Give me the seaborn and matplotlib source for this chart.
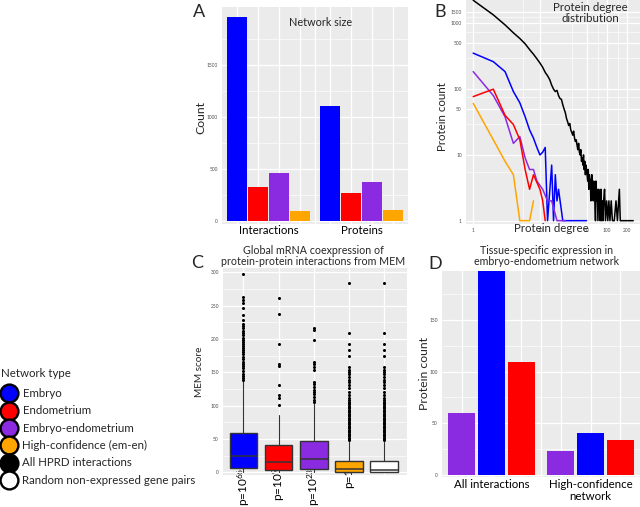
import pandas as pd
import matplotlib.pyplot as plt
import matplotlib.ticker as mticker
import seaborn as sns

W, H = 640, 507

# ---- colours per network type
network_colors = {
    "Embryo": "#0000FF",
    "Endometrium": "#FF0000",
    "Embryo-endometrium": "#8A2BE2",
    "High-confidence (em-en)": "#FFA500",
    "All HPRD interactions": "#000000",
    "Random non-expressed gene pairs": "#FFFFFF",
}

# ---- panel A: network size
size_metrics = ["Interactions", "Proteins"]
size_networks = ["Embryo", "Endometrium", "Embryo-endometrium", "High-confidence (em-en)"]
interaction_counts = [1961, 327, 456, 93]
protein_counts = [1103, 269, 369, 103]

# ---- panel B: protein degree distribution
hprd_degree = [1, 2, 3, 4, 5, 6, 7, 8, 9, 10, 11, 12, 13, 14, 15, 16, 17, 18, 19, 20,
               21, 22, 23, 24, 25, 26, 27, 28, 29, 30, 31, 32, 33, 34, 35, 36, 37, 38, 39, 40,
               41, 42, 43, 44, 45, 46, 47, 48, 49, 50, 52, 53, 54, 55, 57, 58, 60, 61, 63, 64,
               66, 68, 69, 71, 72, 74, 76, 78, 80, 82, 84, 86, 88, 90, 93, 96, 100, 104, 108, 112,
               117, 122, 130, 138, 145, 155, 160, 170, 190, 220, 250]
hprd_count = [2250, 1350, 950, 720, 590, 490, 400, 340, 290, 250, 215, 180, 160, 140, 115, 100, 92, 96, 80, 72,
              70, 58, 50, 44, 36, 32, 28, 30, 24, 22, 20, 23, 18, 16, 17, 14, 12, 15, 11, 10,
              12, 8, 9, 7, 10, 6, 8, 5, 7, 6, 4, 6, 3, 5, 4, 2, 5, 3, 2, 4,
              3, 1, 4, 2, 3, 1, 3, 2, 1, 3, 1, 2, 1, 2, 3, 1, 2, 1, 2, 1,
              2, 1, 1, 2, 1, 3, 1, 1, 1, 1, 1]
embryo_degree = [1, 2, 3, 4, 5, 6, 7, 8, 9, 10, 11, 12, 13, 15, 16, 17, 18, 19, 22, 27, 35, 50]
embryo_count = [353, 262, 185, 92, 62, 38, 24, 18, 13, 10, 11, 13, 1, 7, 1, 5, 2, 3, 1, 1, 1, 1]
emen_degree = [1, 2, 3, 4, 5, 6, 7, 8, 9, 11, 13, 15, 18, 24]
emen_count = [185, 80, 38, 15, 19, 9, 6, 6, 4, 3, 2, 2, 1, 1]
endo_degree = [1, 2, 3, 4, 5, 6, 7, 8, 10, 11, 12]
endo_count = [77, 100, 40, 29, 17, 6, 3, 5, 3, 2, 1]
hc_degree = [1, 2, 3, 4, 5, 7, 8]
hc_count = [61, 17, 8, 5, 1, 1, 2]

# ---- panel C: MEM score boxplots (summary stats)
mem_networks = ["Embryo", "Endometrium", "Embryo-endometrium",
                "High-confidence (em-en)", "Random non-expressed gene pairs"]
mem_labels = [r"p=10$^{66}$", r"p=10$^{9}$", r"p=10$^{23}$", "p=1", ""]
mem_q1 = [6, 4, 4.5, 0, 0]
mem_median = [25, 16, 19.5, 4.5, 4]
mem_q3 = [58.5, 41, 47, 17.5, 17.5]
mem_whislo = [0, 0, 0, 0, 0]
mem_whishi = [137, 86, 103, 46, 46]
mem_fliers = [
    [298, 263, 259, 254, 246, 236, 228, 223, 220, 216, 212, 209, 206, 202, 198, 196, 193, 189,
     186, 183, 181, 177, 173, 170, 166, 162, 159, 156, 152, 148, 144, 141, 138],
    [262, 238, 193, 162, 159, 131, 116, 112, 101],
    [216, 213, 198, 166, 162, 158, 153, 136, 132, 128, 124, 121, 117, 113, 109, 106],
    [284, 209, 193, 183, 174, 158, 154, 151, 147, 143, 139, 136, 131, 126, 121, 116, 112,
     108, 106, 104, 102, 100, 98, 96, 94, 92, 90, 88, 86, 84, 82, 80, 78, 76, 74, 72, 70,
     68, 66, 64, 62, 60, 58, 56, 54, 52, 50, 48],
    [284, 209, 193, 183, 174, 158, 154, 151, 147, 143, 139, 136, 131, 126, 121, 116, 112,
     108, 106, 104, 102, 100, 98, 96, 94, 92, 90, 88, 86, 84, 82, 80, 78, 76, 74, 72, 70,
     68, 66, 64, 62, 60, 58, 56, 54, 52, 50, 48],
]

# ---- panel D: tissue-specific expression
tissue_sets = ["All interactions", "High-confidence\nnetwork"]
tissue_types = ["Embryo-endometrium", "Embryo", "Endometrium"]
tissue_all = [60, 200, 109]
tissue_hc = [23, 40, 34]

# ---- legend
legend_labels = ["Embryo", "Endometrium", "Embryo-endometrium", "High-confidence (em-en)",
                 "All HPRD interactions", "Random non-expressed gene pairs"]

sns.set_theme(style="darkgrid")
plt.rcParams["font.family"] = ["Lato", "DejaVu Sans"]
plt.rcParams["mathtext.fontset"] = "custom"
plt.rcParams["mathtext.rm"] = "Lato"
plt.rcParams["mathtext.default"] = "regular"

BG = "#EBEBEB"
TICK_FS = 3.5
TICK_COLOR = "#4D4D4D"
TITLE_FS = 7.7
LABEL_FS = 8.3

fig = plt.figure(figsize=(W / 100, H / 100), dpi=100)


def px_axes(left, top, right, bottom):
    return fig.add_axes([left / W, 1 - bottom / H, (right - left) / W, (bottom - top) / H])


def fx(x):
    return x / W


def fy(y):
    return 1 - y / H


def gg_style(ax):
    ax.set_facecolor(BG)
    for s in ax.spines.values():
        s.set_visible(False)
    ax.grid(False)
    ax.set_axisbelow(True)
    ax.tick_params(axis="y", which="major", length=2, width=0.5, color="#333333",
                   labelsize=TICK_FS, labelcolor=TICK_COLOR, pad=1)
    ax.tick_params(which="minor", length=0)
    ax.set_xlabel("")
    ax.set_ylabel("")


def add_grid(ax, xlines=None):
    ax.grid(True, which="major", axis="y", color="white", lw=0.9)
    ax.grid(True, which="minor", axis="y", color="white", lw=0.45)
    if xlines is not None:
        for x in xlines:
            ax.axvline(x, color="white", lw=0.9, zorder=0.5)


# =========================================================
# A: network size
# =========================================================
axA = px_axes(222, 7, 408, 224)
df_a = pd.DataFrame({
    "metric": [size_metrics[0]] * len(size_networks) + [size_metrics[1]] * len(size_networks),
    "network": size_networks * 2,
    "count": interaction_counts + protein_counts,
})
sns.barplot(data=df_a, x="metric", y="count", hue="network", hue_order=size_networks,
            palette=network_colors, width=0.9, gap=0.08, saturation=1, linewidth=0,
            legend=False, ax=axA, zorder=2)
gg_style(axA)
axA.set_xlim(-0.5, 1.5)
axA.set_ylim(-32, 2055)
axA.set_yticks([0, 500, 1000, 1500])
axA.set_yticks([250, 750, 1250, 1750], minor=True)
centers_a = [p.get_x() + p.get_width() / 2 for p in axA.patches if p.get_height() > 0]
add_grid(axA, centers_a + [0.5])
axA.tick_params(axis="x", length=0, labelsize=8.3, pad=0.5, labelcolor="black")
fig.text(fx(321), fy(23), "Network size", ha="center", va="center", fontsize=7.8)
fig.text(fx(201), fy(118), "Count", rotation=90, ha="center", va="center", fontsize=8.8)
fig.text(fx(199), fy(12), "A", ha="center", va="center", fontsize=13)

# =========================================================
# B: protein degree distribution
# =========================================================
axB = px_axes(466, 0, 640, 224)
deg_series = [
    ("All HPRD interactions", hprd_degree, hprd_count),
    ("Embryo", embryo_degree, embryo_count),
    ("Embryo-endometrium", emen_degree, emen_count),
    ("Endometrium", endo_degree, endo_count),
    ("High-confidence (em-en)", hc_degree, hc_count),
]
df_b = pd.concat([pd.DataFrame({"network": name, "degree": d, "count": c})
                  for name, d, c in deg_series], ignore_index=True)
sns.lineplot(data=df_b, x="degree", y="count", hue="network",
             hue_order=[s[0] for s in deg_series], palette=network_colors,
             estimator=None, lw=1.1, legend=False, ax=axB, zorder=2)
gg_style(axB)
axB.set_xscale("log")
axB.set_yscale("log")
axB.set_xlim(0.78, 316)
axB.set_ylim(0.89, 2270)
axB.set_xticks([1, 10, 50, 100, 200])
axB.set_xticklabels(["1", "10", "50", "100", "200"])
axB.set_xticks([5.5, 30, 75, 150], minor=True)
axB.set_yticks([1, 10, 50, 100, 500, 1000, 1500])
axB.set_yticklabels(["1", "10", "50", "100", "500", "1000", "1500"])
axB.set_yticks([5.5, 30, 75, 300, 750, 1250], minor=True)
axB.xaxis.set_minor_formatter(mticker.NullFormatter())
axB.yaxis.set_minor_formatter(mticker.NullFormatter())
axB.grid(True, which="major", color="white", lw=0.9)
axB.grid(True, which="minor", color="white", lw=0.45)
axB.tick_params(axis="x", which="major", length=2, width=0.5, color="#333333",
                labelsize=TICK_FS, labelcolor=TICK_COLOR, pad=1)
axB.tick_params(which="minor", length=0)
fig.text(fx(590), fy(13), "Protein degree\ndistribution", ha="center", va="center",
         fontsize=8.3, linespacing=1.0)
fig.text(fx(551), fy(228), "Protein degree", ha="center", va="center", fontsize=8.3)
fig.text(fx(443), fy(117), "Protein count", rotation=90, ha="center", va="center",
         fontsize=LABEL_FS)
fig.text(fx(440), fy(12), "B", ha="center", va="center", fontsize=13)

# =========================================================
# C: MEM score boxplots
# =========================================================
axC = px_axes(223, 268, 407, 475)
gg_style(axC)
stats = []
for i in range(len(mem_networks)):
    stats.append({"med": mem_median[i], "q1": mem_q1[i], "q3": mem_q3[i],
                  "whislo": mem_whislo[i], "whishi": mem_whishi[i],
                  "fliers": mem_fliers[i]})
bp = axC.bxp(stats, positions=list(range(len(mem_networks))), widths=0.79,
             patch_artist=True, showcaps=False,
             boxprops={"edgecolor": "#333333", "linewidth": 1.0},
             medianprops={"color": "#333333", "linewidth": 1.1},
             whiskerprops={"color": "#333333", "linewidth": 0.8},
             flierprops={"marker": "o", "markersize": 2.2, "markerfacecolor": "black",
                         "markeredgecolor": "none"},
             zorder=2)
for patch, name in zip(bp["boxes"], mem_networks):
    patch.set_facecolor(network_colors[name])
axC.set_xlim(-0.58, 4.65)
axC.set_ylim(-4, 306.5)
axC.set_yticks([0, 50, 100, 150, 200, 250, 300])
axC.set_yticks([25, 75, 125, 175, 225, 275], minor=True)
add_grid(axC, list(range(len(mem_networks))))
axC.set_xticks(list(range(len(mem_networks))))
axC.set_xticklabels(mem_labels, rotation=90, fontsize=8.5)
axC.tick_params(axis="x", length=0, pad=-5, labelcolor="black")
fig.text(fx(313), fy(256), "Global mRNA coexpression of\nprotein-protein interactions from MEM",
         ha="center", va="center", fontsize=TITLE_FS, linespacing=1.05)
fig.text(fx(199), fy(372), "MEM score", rotation=90, ha="center", va="center", fontsize=7.2)
fig.text(fx(197), fy(263), "C", ha="center", va="center", fontsize=13)

# =========================================================
# D: tissue-specific expression
# =========================================================
axD = px_axes(442, 271, 640, 477)
df_d = pd.DataFrame({
    "set": [tissue_sets[0]] * len(tissue_types) + [tissue_sets[1]] * len(tissue_types),
    "type": tissue_types * 2,
    "count": tissue_all + tissue_hc,
})
sns.barplot(data=df_d, x="set", y="count", hue="type", hue_order=tissue_types,
            palette=network_colors, width=0.9, gap=0.08, saturation=1, linewidth=0,
            legend=False, ax=axD, zorder=2)
gg_style(axD)
axD.set_xlim(-0.5, 1.5)
axD.set_ylim(-2.2, 197.4)
axD.set_yticks([0, 50, 100, 150])
axD.set_yticks([25, 75, 125, 175], minor=True)
centers_d = [p.get_x() + p.get_width() / 2 for p in axD.patches if p.get_height() > 0]
add_grid(axD, centers_d + [0.5])
axD.tick_params(axis="x", length=0, labelsize=8.3, pad=1.5, labelcolor="black")
for lab in axD.get_xticklabels():
    lab.set_linespacing(1.05)
fig.text(fx(547), fy(256), "Tissue-specific expression in\nembryo-endometrium network",
         ha="center", va="center", fontsize=TITLE_FS, linespacing=1.05)
fig.text(fx(425), fy(373), "Protein count", rotation=90, ha="center", va="center",
         fontsize=8.8)
fig.text(fx(435), fy(264), "D", ha="center", va="center", fontsize=13)

# =========================================================
# shared legend (drawn in a bare axes measured in pixels)
# =========================================================
axL = px_axes(0, 362, 220, 492)
axL.set_xlim(0, 220)
axL.set_ylim(492, 362)
axL.axis("off")
row_step = 17.35
first_row = 393.3
axL.text(1, 373.5, "Network type", ha="left", va="center", fontsize=8.3)
for i, name in enumerate(legend_labels):
    y = first_row + i * row_step
    axL.scatter([9], [y], s=165, color=network_colors[name], edgecolor="black",
                linewidth=1.7, clip_on=False, zorder=3)
    axL.text(22.5, y, name, ha="left", va="center", fontsize=8.3)

fig.savefig("out.png", dpi=100)
